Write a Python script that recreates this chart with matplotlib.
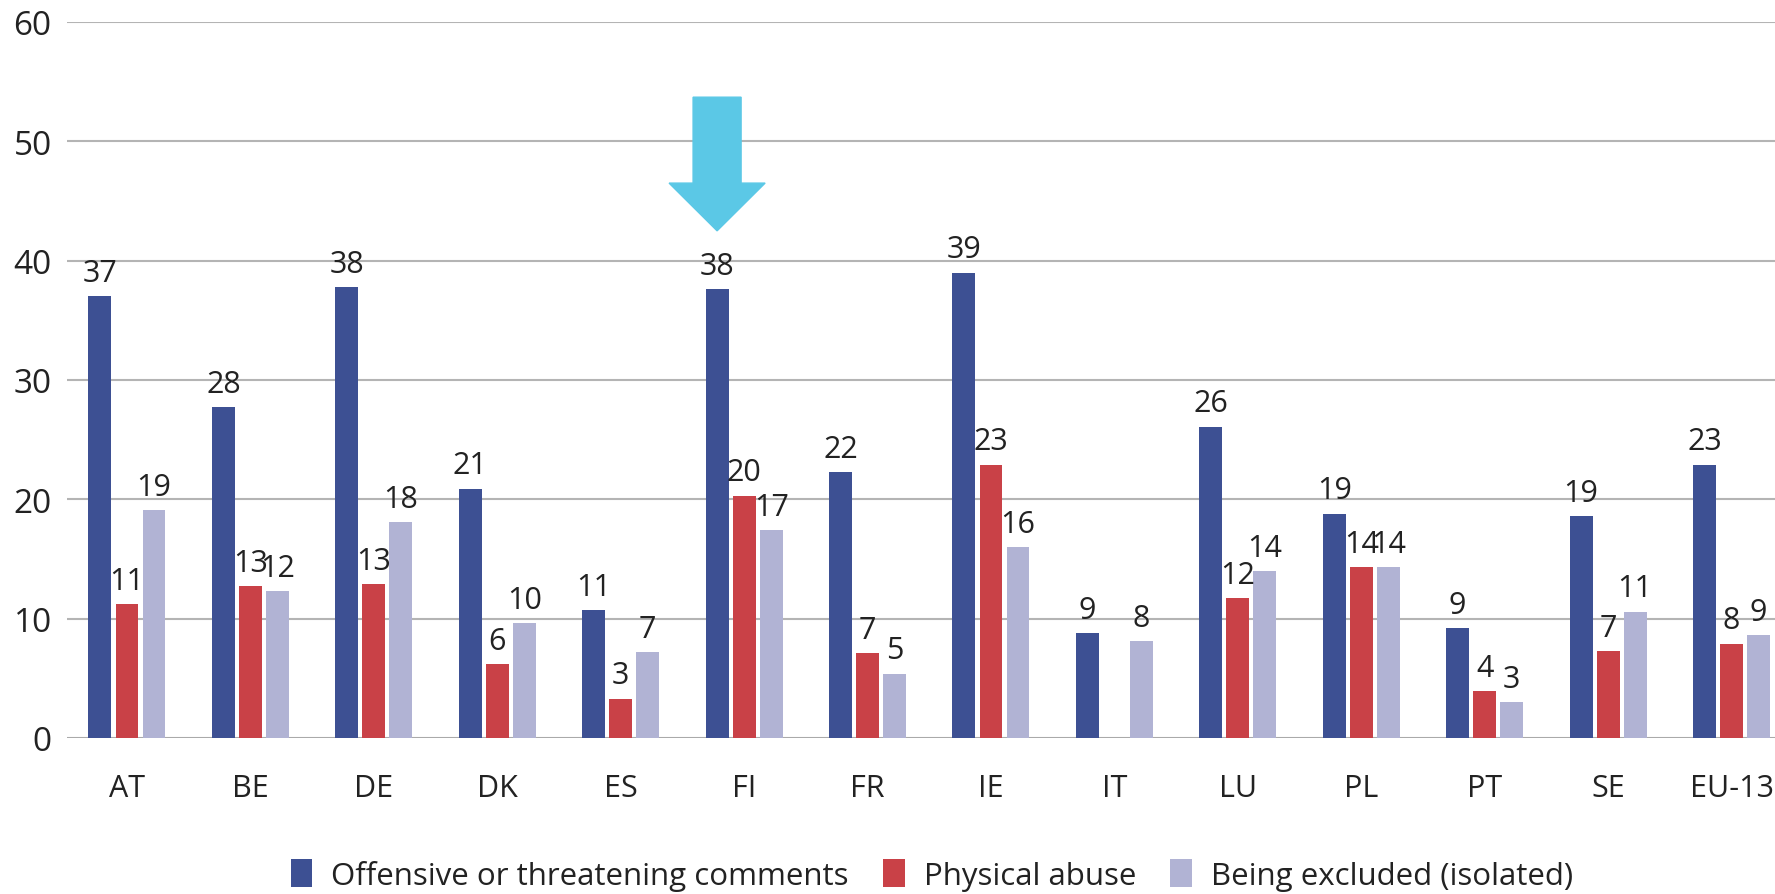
import numpy as np
import matplotlib
matplotlib.use("Agg")
import matplotlib.pyplot as plt
from matplotlib.patches import FancyArrow, Patch

categories = ["AT", "BE", "DE", "DK", "ES", "FI", "FR", "IE", "IT", "LU", "PL", "PT", "SE", "EU-13"]
offensive = [37.0, 27.7, 37.8, 20.9, 10.7, 37.6, 22.3, 39.0, 8.8, 26.1, 18.8, 9.2, 18.6, 22.9]
physical = [11.2, 12.7, 12.9, 6.2, 3.3, 20.3, 7.1, 22.9, np.nan, 11.7, 14.3, 3.9, 7.3, 7.9]
excluded = [19.1, 12.3, 18.1, 9.6, 7.2, 17.4, 5.4, 16.0, 8.1, 14.0, 14.3, 3.0, 10.6, 8.6]
series_names = ["Offensive or threatening comments", "Physical abuse", "Being excluded (isolated)"]
colors = ["#3D5093", "#C94147", "#B1B3D4"]
yticks = [0, 10, 20, 30, 40, 50, 60]

plt.rcParams['font.family'] = ['Open Sans', 'DejaVu Sans']
FS = 22

fig = plt.figure(figsize=(17.75, 8.95), dpi=100)
W, H = 1775, 895
ax = fig.add_axes([67 / W, (H - 739) / H, 1 - 67 / W, (739 - 23) / H])

x = np.arange(len(categories))
bw = 0.186
step = 0.219
for i, (vals, c) in enumerate(zip([offensive, physical, excluded], colors)):
    xs = x + (i - 1) * step
    ax.bar(xs, vals, width=bw, color=c, zorder=3)
    for xi, v in zip(xs, vals):
        if not np.isnan(v):
            ax.annotate(f"{v:.0f}", (xi, v), xytext=(0, 6), textcoords="offset points",
                        ha="center", va="bottom", fontsize=FS, color="#222222", zorder=4)

ax.set_xlim(-0.486, 13.352)
ax.set_ylim(0, 60)
ax.set_yticks(yticks)
ax.set_xticks(x)
ax.set_xticklabels(categories)
ax.tick_params(axis="both", length=0, labelsize=FS, colors="#222222")
ax.tick_params(axis="y", labelsize=24, pad=11)
ax.tick_params(axis="x", pad=25)
ax.yaxis.grid(True, color="#b4b4b4", linewidth=1.5, zorder=0)
for s in ax.spines.values():
    s.set_visible(False)
ax.axhline(0, color="#a8a8a8", linewidth=1.8, zorder=2)

# highlight arrow over FI
fi = categories.index("FI") - step
arrow = FancyArrow(fi, 53.7, 0, -11.2, width=0.389, head_width=0.778, head_length=4.0,
                   length_includes_head=True, color="#5BC8E6", zorder=5, clip_on=False)
ax.add_patch(arrow)

handles = [Patch(facecolor=c, edgecolor="none") for c in colors]
fig.legend(handles, series_names, loc="center", bbox_to_anchor=(0.525, (H - 876) / H),
           ncol=3, frameon=False, fontsize=22.5, handlelength=0.7, handleheight=1.0,
           handletextpad=0.6, columnspacing=1.1, labelcolor="#222222")

fig.savefig("out.png", dpi=100)
